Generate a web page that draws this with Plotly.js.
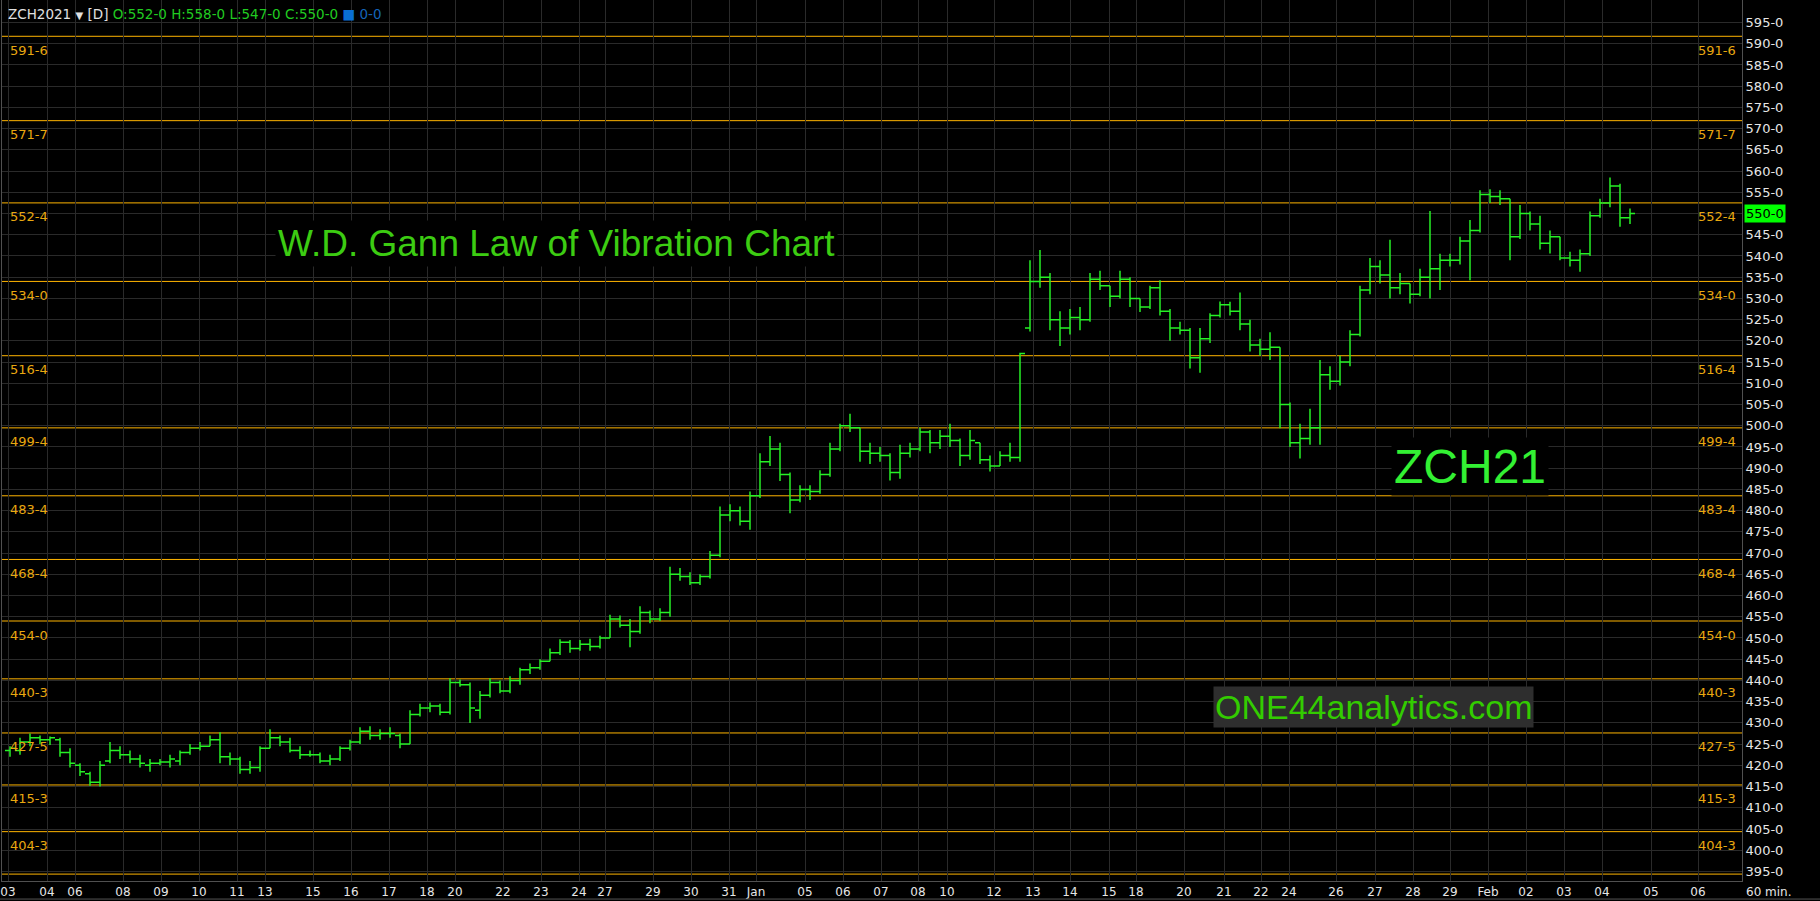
<!DOCTYPE html>
<html><head><meta charset="utf-8">
<script src="https://cdn.plot.ly/plotly-3.0.1.min.js"></script>
<style>html,body{margin:0;padding:0;background:#000;overflow:hidden}#chart{width:1820px;height:901px}</style>
</head><body><div id="chart"></div>
<script>
// ZCH2021 price bars (each bar aggregates a few hourly bars), Dec 3 2020 -> Feb 4 2021
const barOpen = [423.5,423.5,425.5,426.5,426.0,426.0,423.0,420.0,418.0,416.0,
421.0,423.5,422.5,421.5,420.0,420.5,420.8,421.0,423.0,424.0,
424.5,426.0,422.0,421.5,419.0,419.5,424.0,426.5,425.5,423.5,
422.5,422.5,421.0,421.5,424.0,425.5,428.0,427.0,427.5,427.0,
425.0,432.0,433.5,434.0,432.5,439.5,439.0,433.0,436.5,439.5,
437.5,440.0,442.5,443.0,444.5,446.5,449.0,447.5,448.5,448.0,
450.0,454.5,453.0,451.5,456.0,454.5,456.0,465.0,464.5,463.0,
464.5,469.5,479.0,480.0,477.5,483.5,491.5,494.5,488.5,482.5,
485.0,484.5,488.5,494.5,500.0,499.5,494.0,493.5,493.0,489.0,
493.5,494.5,498.5,496.0,497.5,496.5,493.0,496.0,492.0,490.5,
493.0,492.5,523.0,534.0,535.0,525.0,523.0,525.5,525.0,534.5,
533.0,530.5,534.5,530.0,528.0,532.5,527.0,523.0,522.5,516.0,
520.5,526.0,528.5,527.0,524.0,519.0,518.0,518.5,505.0,496.0,
497.0,499.5,512.0,510.5,515.0,521.5,532.0,537.5,535.5,532.5,
533.5,531.0,535.0,537.0,539.0,539.0,543.5,546.0,554.5,554.0,
553.5,544.5,550.0,547.5,543.0,544.5,539.5,539.0,540.5,549.5,
552.5,556.5,549.0];
const barHigh = [424.5,426.5,427.5,427.0,426.8,426.5,424.0,420.5,418.5,421.0,
425.5,424.5,423.5,422.5,421.5,421.5,422.5,423.5,425.0,425.5,
427.0,427.8,423.0,422.0,421.0,424.5,428.5,427.0,426.5,424.5,
423.5,423.0,422.5,424.5,426.0,429.0,429.2,428.5,429.0,427.5,
433.0,434.5,434.8,434.5,440.5,440.2,439.5,437.5,440.5,440.0,
441.0,443.0,444.0,445.0,447.5,449.7,449.5,449.5,449.8,450.5,
455.5,455.3,454.5,457.5,456.5,457.0,466.8,466.5,465.5,465.0,
470.5,481.0,481.5,481.0,484.5,493.5,497.6,496.0,489.0,486.0,
486.0,489.5,496.0,500.5,502.8,499.5,496.0,495.0,493.5,495.5,
496.0,499.5,499.0,499.0,500.5,497.0,499.0,496.0,493.0,494.0,
496.0,517.2,539.0,541.4,536.0,527.0,527.5,528.0,536.0,536.5,
533.0,536.5,535.0,530.0,533.0,534.3,527.5,524.5,523.0,523.0,
526.5,529.3,529.2,531.4,525.0,520.5,522.0,518.5,505.5,500.5,
504.0,515.5,514.0,516.5,522.5,533.0,539.5,539.0,543.8,536.0,
533.5,537.0,550.6,540.5,540.5,544.5,548.5,555.5,555.7,555.5,
553.5,552.0,550.5,549.5,546.0,544.5,541.0,541.5,550.5,553.5,
558.5,557.0,551.2];
const barLow = [422.0,422.5,424.5,425.0,424.8,422.0,419.5,417.5,415.2,415.0,
420.5,421.5,420.5,419.5,418.5,420.0,419.5,420.0,422.5,423.5,
424.5,420.5,420.0,418.0,418.0,418.5,424.0,424.5,423.0,421.5,
422.0,420.5,420.0,421.0,423.5,425.0,426.0,426.0,426.5,424.0,
425.0,431.5,432.5,431.8,432.0,438.5,430.0,431.0,436.0,437.0,
437.0,439.0,441.5,442.5,444.5,446.0,446.5,447.0,447.0,447.5,
450.0,452.5,447.8,451.0,453.5,454.0,455.0,463.5,462.5,462.5,
464.0,469.0,477.5,476.5,475.5,483.0,490.5,487.0,479.4,482.0,
482.5,484.0,488.0,494.0,498.5,491.5,491.0,491.5,487.1,487.5,
492.5,494.0,493.5,494.5,495.0,490.5,492.0,491.0,489.2,490.5,
491.5,491.5,522.2,532.5,522.5,518.8,521.5,522.5,524.5,532.0,
528.0,530.0,528.0,526.8,527.5,526.0,520.0,521.5,513.5,512.5,
519.5,525.5,526.0,522.5,517.5,516.5,515.5,499.4,495.0,492.3,
495.5,495.5,508.5,509.5,514.0,521.0,531.0,533.5,530.0,531.0,
528.8,530.5,530.0,532.0,537.5,538.0,534.3,545.5,552.5,552.0,
539.0,544.0,546.0,541.5,540.6,539.0,537.5,536.3,540.0,549.0,
551.5,546.9,547.5];
const barClose = [424.0,425.5,426.5,426.0,426.5,423.0,420.5,418.5,416.0,420.0,
423.5,422.5,421.5,420.5,420.5,420.8,421.5,423.0,424.0,424.5,
426.0,422.0,421.5,419.0,419.5,424.0,426.5,425.5,423.5,422.5,
422.5,421.0,421.5,424.0,425.5,428.0,427.0,427.5,427.5,425.0,
432.0,433.5,434.0,432.5,439.5,439.0,433.5,436.5,439.5,437.5,
440.0,442.5,443.0,444.5,446.5,449.0,447.5,448.5,448.0,450.0,
454.5,453.0,451.5,456.0,454.5,456.0,465.0,464.5,463.0,464.5,
469.5,479.0,480.0,477.5,483.5,491.5,494.5,488.5,482.5,485.0,
484.5,488.5,494.5,500.0,499.5,494.0,493.5,493.0,489.0,493.5,
494.5,498.5,496.0,497.5,496.5,493.0,496.5,492.0,490.5,493.0,
492.5,517.0,534.0,535.0,525.0,523.0,525.5,525.0,534.5,533.0,
530.5,534.5,530.0,528.0,532.5,527.0,523.0,522.5,516.0,520.5,
526.0,528.5,527.0,524.0,519.0,518.0,518.5,505.0,496.0,497.0,
499.5,512.0,510.5,515.0,521.5,532.0,537.5,535.5,532.5,533.5,
531.0,535.0,537.0,539.0,539.0,543.5,546.0,554.5,554.0,553.5,
544.5,550.0,547.5,543.0,544.5,539.5,539.0,540.5,549.5,552.5,
556.5,549.0,550.0];

// session-start positions (in bar index units) and their date labels
const dateTickPos = [-0.2,3.7,6.5,11.3,15.1,18.9,22.7,25.5,30.3,34.1,37.9,41.7,44.5,49.3,53.1,56.9,59.5,
64.3,68.1,71.9,74.6,79.5,83.3,87.1,90.8,93.7,98.4,102.3,106.0,109.9,112.6,117.4,121.4,125.1,127.9,
132.6,136.5,140.3,144.0,147.8,151.6,155.4,159.2,164.1,168.8];
const dateTickText = ['03','04','06','08','09','10','11','13','15','16','17','18','20','22','23','24','27',
'29','30','31','Jan','05','06','07','08','10','12','13','14','15','18','20','21','22','24',
'26','27','28','29','Feb','02','03','04','05','06'];

// Gann vibration levels
const levelValues = [591.75,571.875,552.5,534.0,516.5,499.5,483.5,468.5,454.0,440.375,427.625,415.375,404.375,394.375];
const levelLabels = ['591-6','571-7','552-4','534-0','516-4','499-4','483-4','468-4','454-0','440-3','427-5','415-3','404-3',''];

const priceTicks = [];
for (let v = 395; v <= 595; v += 5) priceTicks.push(v);
const priceTickText = priceTicks.map(v => v + '-0');

const lastPrice = 550.0;
const headerSymbol = 'ZCH2021';
const headerOHLC = 'O:552-0 H:558-0 L:547-0 C:550-0';

const barIndex = barOpen.map((_, i) => i);

const GREEN = '#26f026';
const GOLD = '#ffb400';
const GOLD_TXT = '#e9a810';

const trace = {
  type: 'ohlc',
  x: barIndex, open: barOpen, high: barHigh, low: barLow, close: barClose,
  increasing: {line: {color: GREEN, width: 1.5}},
  decreasing: {line: {color: GREEN, width: 1.5}},
  tickwidth: 0.5,
  hoverinfo: 'skip'
};

const shapes = levelValues.map(v => ({
  type: 'line', xref: 'paper', x0: 0, x1: 1, yref: 'y', y0: v, y1: v,
  line: {color: GOLD, width: 1}, layer: 'between'
}));
shapes.push({type:'line', xref:'paper', yref:'paper', x0:-0.002, x1:1.05, y0:-0.0205, y1:-0.0205, line:{color:'#555', width:1}});

const annotations = [];
levelValues.forEach((v, i) => {
  if (!levelLabels[i]) return;
  annotations.push({xref:'paper', x:0.0035, xanchor:'left', yref:'y', y:v, yanchor:'middle', yshift:-14,
    text: levelLabels[i], showarrow:false, font:{family:'DejaVu Sans', size:13, color:GOLD_TXT}});
  annotations.push({xref:'paper', x:1, xanchor:'right', xshift:-4, yref:'y', y:v, yanchor:'middle', yshift:-14,
    text: levelLabels[i], showarrow:false, font:{family:'DejaVu Sans', size:13, color:GOLD_TXT}});
});
annotations.push({xref:'paper', yref:'paper', x:0.0025, y:1 - 14/881, xanchor:'left', yanchor:'middle',
  showarrow:false, font:{family:'DejaVu Sans', size:13.5, color:'#e0e0e0'},
  text: headerSymbol + ' <span style="font-size:10px">▼</span> [D] <span style="color:#20cc20">' + headerOHLC +
        '</span> <span style="color:#0a6fd2">■</span> <span style="color:#1464b8">0-0</span>'});
annotations.push({xref:'x', yref:'y', x:54.6, y:543.0, xanchor:'center', yanchor:'middle', showarrow:false,
  text:'W.D. Gann Law of Vibration Chart', bgcolor:'#000', borderpad:2,
  font:{family:'Liberation Sans, Arial, sans-serif', size:37, color:'#3ccc12'}});
annotations.push({xref:'x', yref:'y', x:146, y:490.5, xanchor:'center', yanchor:'middle', showarrow:false,
  text:'ZCH21', bgcolor:'#000', borderpad:2,
  font:{family:'Liberation Sans, Arial, sans-serif', size:48, color:'#33f033'}});
annotations.push({xref:'x', yref:'y', x:136.3, y:433.75, xanchor:'center', yanchor:'middle', showarrow:false,
  text:'ONE44analytics.com', bgcolor:'#2e2e2e', borderpad:1,
  font:{family:'Liberation Sans, Arial, sans-serif', size:34, color:'#33cc00'}});
annotations.push({xref:'paper', yref:'y', x:1, xanchor:'left', xshift:2, y:lastPrice, yanchor:'middle', showarrow:false,
  text: lastPrice.toFixed(0) + '-0', bgcolor:'#00ff00', borderpad:1,
  font:{family:'DejaVu Sans', size:13, color:'#000'}});
annotations.push({xref:'paper', yref:'paper', x:1, xanchor:'left', xshift:2, y:-11/881, yanchor:'middle', showarrow:false,
  text:'60 min.', font:{family:'DejaVu Sans', size:12, color:'#e6e6e6'}});

const layout = {
  width: 1820, height: 901,
  margin: {l: 2, r: 78, t: 0, b: 20, pad: 0},
  paper_bgcolor: '#000', plot_bgcolor: '#000',
  showlegend: false,
  font: {family: 'DejaVu Sans', color: '#e6e6e6', size: 12},
  xaxis: {
    range: [-0.8, 173.2], tickmode: 'array', tickvals: dateTickPos, ticktext: dateTickText,
    showgrid: true, gridcolor: '#2a2a2a', gridwidth: 1, zeroline: false,
    showline: true, linecolor: '#505050', ticks: '', tickangle: 0,
    tickfont: {family: 'DejaVu Sans', size: 12, color: '#e6e6e6'},
    rangeslider: {visible: false}, fixedrange: true
  },
  yaxis: {
    side: 'right', range: [392.75, 600.3], tickmode: 'array', tickvals: priceTicks, ticktext: priceTickText,
    showgrid: true, gridcolor: '#2a2a2a', gridwidth: 1, zeroline: false,
    showline: true, mirror: true, linecolor: '#505050', ticks: '',
    tickfont: {family: 'DejaVu Sans', size: 13, color: '#e6e6e6'}, fixedrange: true
  },
  shapes: shapes,
  annotations: annotations
};

Plotly.newPlot('chart', [trace], layout, {displayModeBar: false, staticPlot: true});
</script>
</body></html>
